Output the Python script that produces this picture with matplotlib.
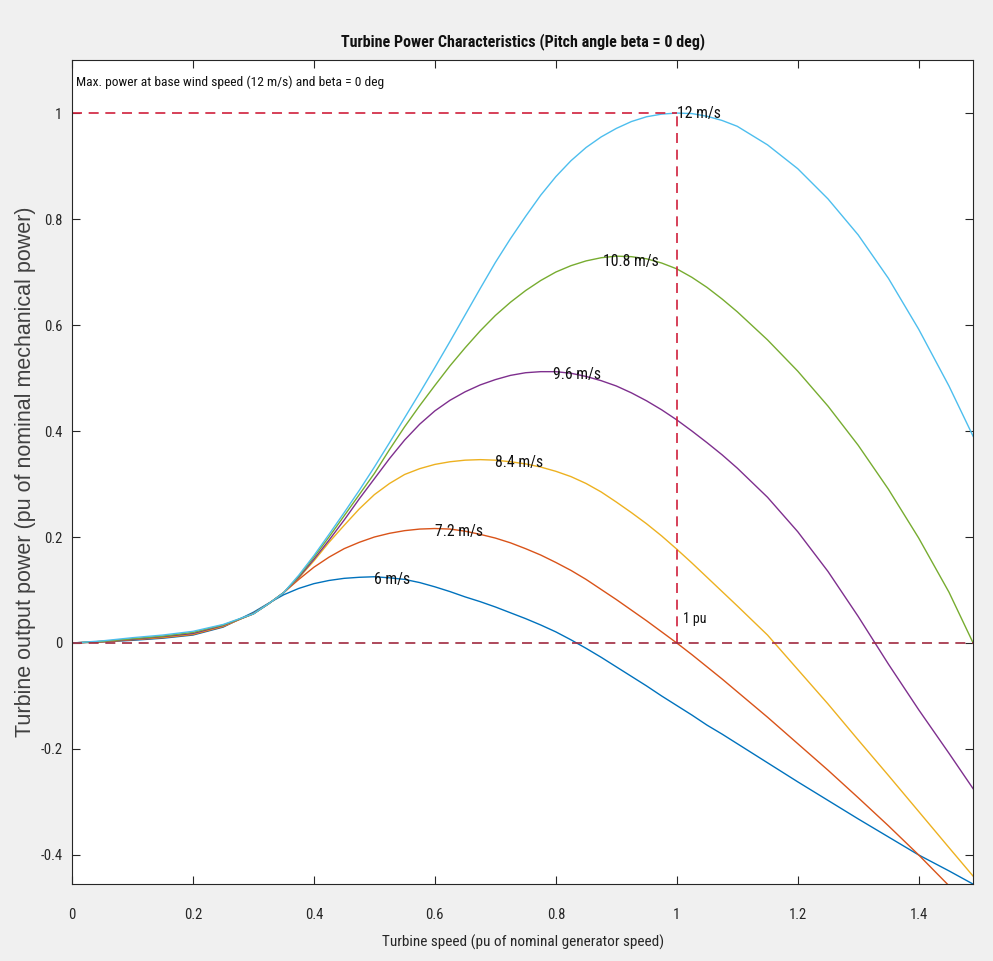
import numpy as np
import matplotlib
matplotlib.use('Agg')
import matplotlib.pyplot as plt
from matplotlib import font_manager
from matplotlib.ticker import FuncFormatter

# turbine speed (pu) and power curves (pu)
speed = [0, 0.05, 0.1, 0.15, 0.2, 0.25, 0.3, 0.325, 0.35, 0.375, 0.4, 0.425, 0.45,
         0.475, 0.5, 0.525, 0.55, 0.575, 0.6, 0.625, 0.65, 0.675, 0.7, 0.725, 0.75,
         0.775, 0.8, 0.825, 0.85, 0.875, 0.9, 0.925, 0.95, 0.975, 1.0, 1.025, 1.05,
         1.075, 1.1, 1.15, 1.2, 1.25, 1.3, 1.35, 1.4, 1.45, 1.49]

p_6 = [0, 0.002, 0.005, 0.009, 0.015, 0.03, 0.058, 0.075, 0.091, 0.103, 0.112, 0.118,
       0.122, 0.124, 0.125, 0.123, 0.12, 0.114, 0.106, 0.097, 0.087, 0.078, 0.068,
       0.057, 0.046, 0.034, 0.021, 0.006, -0.01, -0.027, -0.045, -0.063, -0.081, -0.1,
       -0.118, -0.136, -0.155, -0.172, -0.19, -0.226, -0.262, -0.297, -0.332, -0.366,
       -0.4, -0.43, -0.455]
p_72 = [0, 0.002, 0.006, 0.01, 0.016, 0.031, 0.056, 0.074, 0.095, 0.12, 0.143, 0.162,
        0.178, 0.19, 0.2, 0.207, 0.212, 0.215, 0.216, 0.215, 0.211, 0.205, 0.198, 0.189,
        0.178, 0.166, 0.152, 0.137, 0.12, 0.101, 0.082, 0.062, 0.042, 0.021, 0.0,
        -0.022, -0.045, -0.068, -0.092, -0.14, -0.19, -0.24, -0.292, -0.345, -0.4,
        -0.458, -0.505]
p_84 = [0, 0.003, 0.007, 0.011, 0.017, 0.032, 0.055, 0.074, 0.095, 0.123, 0.155, 0.19,
        0.222, 0.253, 0.28, 0.301, 0.318, 0.329, 0.337, 0.342, 0.345, 0.346, 0.345,
        0.342, 0.338, 0.332, 0.324, 0.314, 0.301, 0.285, 0.266, 0.246, 0.225, 0.202,
        0.177, 0.151, 0.124, 0.097, 0.07, 0.015, -0.05, -0.115, -0.183, -0.25, -0.318,
        -0.386, -0.44]
p_96 = [0, 0.003, 0.007, 0.012, 0.018, 0.033, 0.055, 0.074, 0.095, 0.124, 0.158, 0.194,
        0.232, 0.272, 0.31, 0.348, 0.383, 0.413, 0.438, 0.458, 0.474, 0.487, 0.497,
        0.505, 0.51, 0.512, 0.512, 0.509, 0.503, 0.495, 0.485, 0.472, 0.457, 0.44,
        0.421, 0.4, 0.378, 0.355, 0.33, 0.275, 0.21, 0.135, 0.05, -0.04, -0.126,
        -0.208, -0.275]
p_108 = [0, 0.003, 0.008, 0.013, 0.02, 0.034, 0.055, 0.074, 0.095, 0.126, 0.162, 0.2,
         0.24, 0.28, 0.32, 0.365, 0.408, 0.448, 0.486, 0.523, 0.557, 0.589, 0.618,
         0.643, 0.665, 0.684, 0.7, 0.712, 0.721, 0.727, 0.73, 0.729, 0.725, 0.717,
         0.706, 0.69, 0.671, 0.649, 0.625, 0.572, 0.513, 0.447, 0.373, 0.29, 0.198,
         0.096, 0.0]
p_12 = [0, 0.004, 0.01, 0.015, 0.022, 0.035, 0.055, 0.074, 0.095, 0.128, 0.165, 0.205,
        0.246, 0.288, 0.332, 0.378, 0.425, 0.472, 0.52, 0.569, 0.619, 0.669, 0.718,
        0.763, 0.805, 0.845, 0.88, 0.91, 0.935, 0.955, 0.971, 0.984, 0.993, 0.998,
        1.0, 0.999, 0.994, 0.986, 0.975, 0.94, 0.895, 0.838, 0.77, 0.688, 0.592,
        0.485, 0.39]

curves = [p_6, p_72, p_84, p_96, p_108, p_12]
wind_labels = ['6 m/s', '7.2 m/s', '8.4 m/s', '9.6 m/s', '10.8 m/s', '12 m/s']
label_x = [0.50, 0.60, 0.70, 0.795, 0.878, 1.0]
label_y = [0.12, 0.21, 0.34, 0.507, 0.72, 1.0]
colors = ['#0072BD', '#D95319', '#EDB120', '#7E2F8E', '#77AC30', '#4DBEEE']

# prefer a narrow sans if the sandbox has one (the source text is condensed)
names = {f.name for f in font_manager.fontManager.ttflist}
narrow = None
for cand in ['Liberation Sans Narrow', 'Roboto Condensed', 'Arial Narrow',
             'Open Sans Condensed', 'Noto Sans Condensed']:
    if cand in names:
        narrow = cand
        break
if narrow is None:
    narrow = 'Liberation Sans'
plt.rcParams['font.family'] = narrow
plt.rcParams['axes.unicode_minus'] = False

fig = plt.figure(figsize=(9.93, 9.61), dpi=100, facecolor='#f0f0f0')
ax = fig.add_axes([0.0725, 0.080, 0.9075, 0.8575])
ax.set_facecolor('white')

for p, c in zip(curves, colors):
    ax.plot(speed, p, color=c, lw=1.0)

# reference lines at 1 pu
ax.plot([0, 1], [1, 1], '--', color='#d0203c', lw=1.2, dashes=(6, 4))
ax.plot([1, 1], [0, 1], '--', color='#d0203c', lw=1.2, dashes=(6, 4))
ax.plot([0, max(speed)], [0, 0], '--', color='#a02a40', lw=1.2, dashes=(6, 4))

for lx, ly, t in zip(label_x, label_y, wind_labels):
    ax.text(lx, ly, t, fontsize=11.3, va='center', ha='left', color='#111111')
ax.text(1.01, 0.045, '1 pu', fontsize=10, va='center', ha='left', color='#111111')
ax.text(0.007, 1.058, 'Max. power at base wind speed (12 m/s) and beta = 0 deg',
        fontsize=9.7, va='center', ha='left', color='#111111')

ax.set_xlim(0, 1.49)
ax.set_ylim(-0.455, 1.10)
ax.set_xticks(np.arange(0, 1.41, 0.2))
ax.set_yticks(np.arange(-0.4, 1.01, 0.2))
fmt = FuncFormatter(lambda v, pos: f'{round(v, 1):g}')
ax.xaxis.set_major_formatter(fmt)
ax.yaxis.set_major_formatter(fmt)
ax.tick_params(direction='in', length=6, width=0.8, top=True, right=True,
               labelsize=10.5, colors='#262626')
ax.tick_params(axis='x', pad=17)
ax.tick_params(axis='y', pad=7)
for s in ax.spines.values():
    s.set_color('#262626')
    s.set_linewidth(0.8)

ax.set_title('Turbine Power Characteristics (Pitch angle beta = 0 deg)',
             fontsize=11.5, fontweight='bold', color='#111111', pad=10)
ax.set_xlabel('Turbine speed (pu of nominal generator speed)', fontsize=11,
              color='#262626', labelpad=9)
ax.set_ylabel('Turbine output power (pu of nominal mechanical power)', fontsize=15.5,
              color='#404040', family='Liberation Sans', labelpad=3)

fig.savefig('out.png', dpi=100, facecolor=fig.get_facecolor())
